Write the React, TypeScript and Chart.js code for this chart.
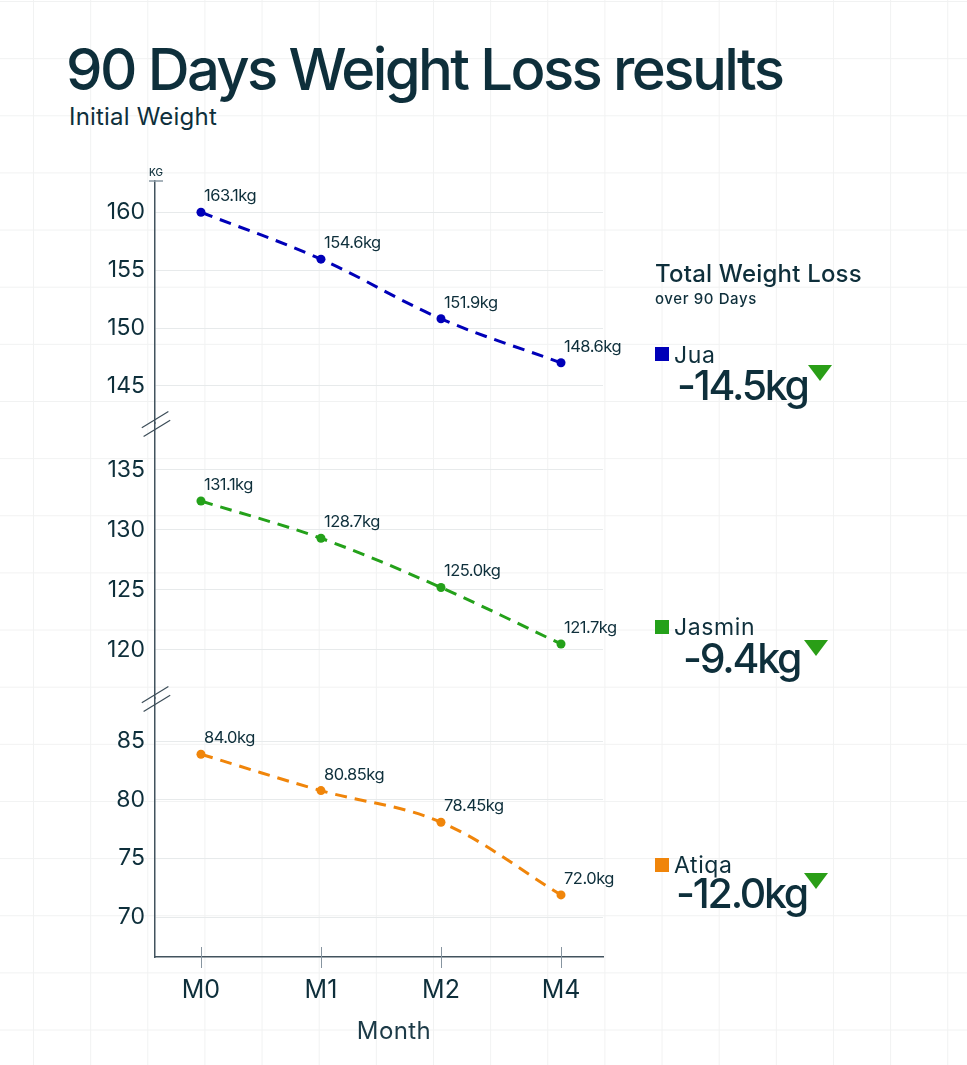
import React, { useEffect, useRef } from "react";
import { Chart, registerables } from "chart.js";

Chart.register(...registerables);

// ---------- data ----------
const months = ["M0", "M1", "M2", "M4"];
const monthPos = [0, 1, 2, 3];

const juaValues = [160.0, 155.95, 150.8, 147.0];
const jasminValues = [132.4, 129.3, 125.2, 120.5];
const atiqaValues = [83.9, 80.8, 78.1, 71.9];

const juaLabels = ["163.1kg", "154.6kg", "151.9kg", "148.6kg"];
const jasminLabels = ["131.1kg", "128.7kg", "125.0kg", "121.7kg"];
const atiqaLabels = ["84.0kg", "80.85kg", "78.45kg", "72.0kg"];

const juaTicks = [145, 150, 155, 160];
const jasminTicks = [120, 125, 130, 135];
const atiqaTicks = [70, 75, 80, 85];

const personNames = ["Jua", "Jasmin", "Atiqa"];
const totalLoss = ["-14.5kg", "-9.4kg", "-12.0kg"];
const personColors = ["#0000b8", "#24a11a", "#f0850a"];

// ---------- styles ----------
const FONT = "Inter, 'Noto Sans', sans-serif";
const INK = "#0e2f3b";
const AXIS = "#42535e";
const GRID = "#e7eaeb";
const ARROW = "#2a9e17";

// legend block layout (cap centres)
const legendLayout = [
  { square: 347, name: 355, value: 385, valueLeft: 677, arrowLeft: 808, arrowTop: 365 },
  { square: 620, name: 627, value: 658, valueLeft: 683, arrowLeft: 804, arrowTop: 640 },
  { square: 858, name: 865, value: 893, valueLeft: 676, arrowLeft: 804, arrowTop: 873 },
];

const decorPlugin = {
  id: "decor",
  afterDatasetsDraw(chart: any) {
    const ctx = chart.ctx;
    ctx.save();
    ctx.font = `16.5px ${FONT}`;
    (ctx as any).letterSpacing = "-0.5px";
    ctx.fillStyle = INK;
    ctx.textAlign = "left";
    ctx.textBaseline = "middle";
    chart.data.datasets.forEach((ds: any, di: number) => {
      const meta = chart.getDatasetMeta(di);
      meta.data.forEach((pt: any, i: number) => {
        ctx.fillText(ds.valueLabels[i], pt.x + 3, pt.y - 16);
      });
    });
    ctx.restore();
  },
  afterDraw(chart: any) {
    const ctx = chart.ctx;
    const area = chart.chartArea;
    const axisX = area.left;
    ctx.save();
    // x tick marks crossing the axis
    const xs = chart.scales.x;
    ctx.strokeStyle = "#8795a0";
    ctx.lineWidth = 1;
    xs.ticks.forEach((t: any) => {
      const px = Math.round(xs.getPixelForValue(t.value)) + 0.5;
      ctx.beginPath();
      ctx.moveTo(px, area.bottom - 10);
      ctx.lineTo(px, area.bottom + 11);
      ctx.stroke();
    });
    // KG unit label and cap
    ctx.fillStyle = INK;
    ctx.font = `500 10px ${FONT}`;
    ctx.textAlign = "center";
    ctx.textBaseline = "middle";
    ctx.fillText("KG", axisX + 1, area.top - 8);
    ctx.strokeStyle = "#8a98a3";
    ctx.lineWidth = 1.5;
    ctx.beginPath();
    ctx.moveTo(axisX - 6, area.top);
    ctx.lineTo(axisX + 8, area.top);
    ctx.stroke();
    // axis break marks
    const breaks = [chart.scales.yJua.bottom, chart.scales.yJasmin.bottom];
    ctx.strokeStyle = "#3c4d58";
    ctx.lineWidth = 1.2;
    breaks.forEach((b: number) => {
      [-1, 1].forEach((k) => {
        const cx = axisX + 1 + k * 0.9;
        const cy = b + 1 + k * 4.4;
        ctx.beginPath();
        ctx.moveTo(cx - 13.3, cy + 8.2);
        ctx.lineTo(cx + 13.3, cy - 8.2);
        ctx.stroke();
      });
    });
    ctx.restore();
  },
};

function yScale(min: number, max: number, weight: number, ticks: number[]) {
  return {
    type: "linear",
    position: "left",
    stack: "weights",
    stackWeight: weight,
    min,
    max,
    afterBuildTicks: (s: any) => {
      s.ticks = ticks.map((v) => ({ value: v }));
    },
    afterFit: (s: any) => {
      s.width = 155;
    },
    grid: { color: GRID, lineWidth: 1, drawTicks: false },
    border: { color: AXIS, width: 1.5 },
    ticks: { padding: 10, color: INK, font: { family: FONT, size: 23 } },
  };
}

function makeDataset(name: string, values: number[], labels: string[], color: string, axis: string) {
  return {
    label: name,
    data: monthPos.map((x, i) => ({ x, y: values[i] })),
    valueLabels: labels,
    yAxisID: axis,
    borderColor: color,
    backgroundColor: color,
    borderWidth: 3,
    borderDash: [12, 8],
    pointRadius: 4.5,
    pointBorderWidth: 0,
    tension: 0.35,
  };
}

export default function App() {
  const canvasRef = useRef<HTMLCanvasElement | null>(null);

  useEffect(() => {
    if (!canvasRef.current) return;
    const chart = new Chart(canvasRef.current, {
      type: "line",
      data: {
        datasets: [
          makeDataset(personNames[0], juaValues, juaLabels, personColors[0], "yJua"),
          makeDataset(personNames[1], jasminValues, jasminLabels, personColors[1], "yJasmin"),
          makeDataset(personNames[2], atiqaValues, atiqaLabels, personColors[2], "yAtiqa"),
        ] as any,
      },
      options: {
        animation: false,
        responsive: false,
        devicePixelRatio: 1,
        layout: { padding: { top: 181, left: 0, right: 364, bottom: 0 } },
        plugins: { legend: { display: false }, tooltip: { enabled: false } },
        scales: {
          x: {
            type: "linear",
            min: -0.383,
            max: 3.35,
            afterBuildTicks: (s: any) => {
              s.ticks = monthPos.map((v) => ({ value: v }));
            },
            afterFit: (s: any) => {
              s.height = 108;
            },
            grid: { display: false, drawTicks: false },
            border: { color: AXIS, width: 1.5 },
            ticks: {
              padding: 18,
              color: INK,
              autoSkip: false,
              maxRotation: 0,
              font: { family: FONT, size: 25 },
              callback: (v: any) => months[monthPos.indexOf(Number(v))],
            },
          },
          yAtiqa: yScale(66.6, 88.7, 259, atiqaTicks),
          yJasmin: yScale(116.0, 138.9, 275, jasminTicks),
          yJua: yScale(141.8, 162.7, 242, juaTicks),
        } as any,
      },
      plugins: [decorPlugin],
    });
    return () => chart.destroy();
  }, []);

  const text = (s: number, extra: React.CSSProperties): React.CSSProperties => ({
    position: "absolute",
    fontFamily: FONT,
    fontSize: s,
    lineHeight: `${s}px`,
    color: INK,
    whiteSpace: "nowrap",
    ...extra,
  });

  return (
    <div
      style={{
        position: "absolute",
        left: 0,
        top: 0,
        width: 967,
        height: 1065,
        overflow: "hidden",
        backgroundColor: "#ffffff",
        backgroundImage:
          "linear-gradient(to right, #f1f2f2 1px, transparent 1px), linear-gradient(to bottom, #f1f2f2 1px, transparent 1px)",
        backgroundSize: "57.15px 57.15px",
        backgroundPosition: "33px 1px",
      }}
    >
      <div style={text(58, { left: 66, top: 69 - 29, fontWeight: 500, letterSpacing: "-2.6px" })}>
        90 Days Weight Loss results
      </div>
      <div style={text(24, { left: 69, top: 116.5 - 12, letterSpacing: "0.2px" })}>Initial Weight</div>

      <canvas ref={canvasRef} width={967} height={1065} style={{ position: "absolute", left: 0, top: 0 }} />

      <div style={text(24, { left: 394 - 60, width: 120, textAlign: "center", top: 1030.5 - 12, letterSpacing: "0.4px", color: "#1c3a47" })}>
        Month
      </div>

      <div style={text(24, { left: 655, top: 273.5 - 12, letterSpacing: "0.2px", fontWeight: 500 })}>Total Weight Loss</div>
      <div style={text(15, { left: 655, top: 298 - 7.5, letterSpacing: "0.6px", fontWeight: 500 })}>over 90 Days</div>

      {personNames.map((n, i) => {
        const L = legendLayout[i];
        return (
          <React.Fragment key={n}>
            <div style={{ position: "absolute", left: 655, top: L.square, width: 14, height: 14, background: personColors[i] }} />
            <div style={text(23, { left: 674, top: L.name - 11.5, letterSpacing: "0.6px" })}>{n}</div>
            <div style={text(41, { left: L.valueLeft, top: L.value - 20.5, letterSpacing: "-2.2px", fontWeight: 500 })}>
              {totalLoss[i]}
            </div>
            <div
              style={{
                position: "absolute",
                left: L.arrowLeft,
                top: L.arrowTop,
                width: 0,
                height: 0,
                borderLeft: "12px solid transparent",
                borderRight: "12px solid transparent",
                borderTop: `16px solid ${ARROW}`,
              }}
            />
          </React.Fragment>
        );
      })}
    </div>
  );
}
